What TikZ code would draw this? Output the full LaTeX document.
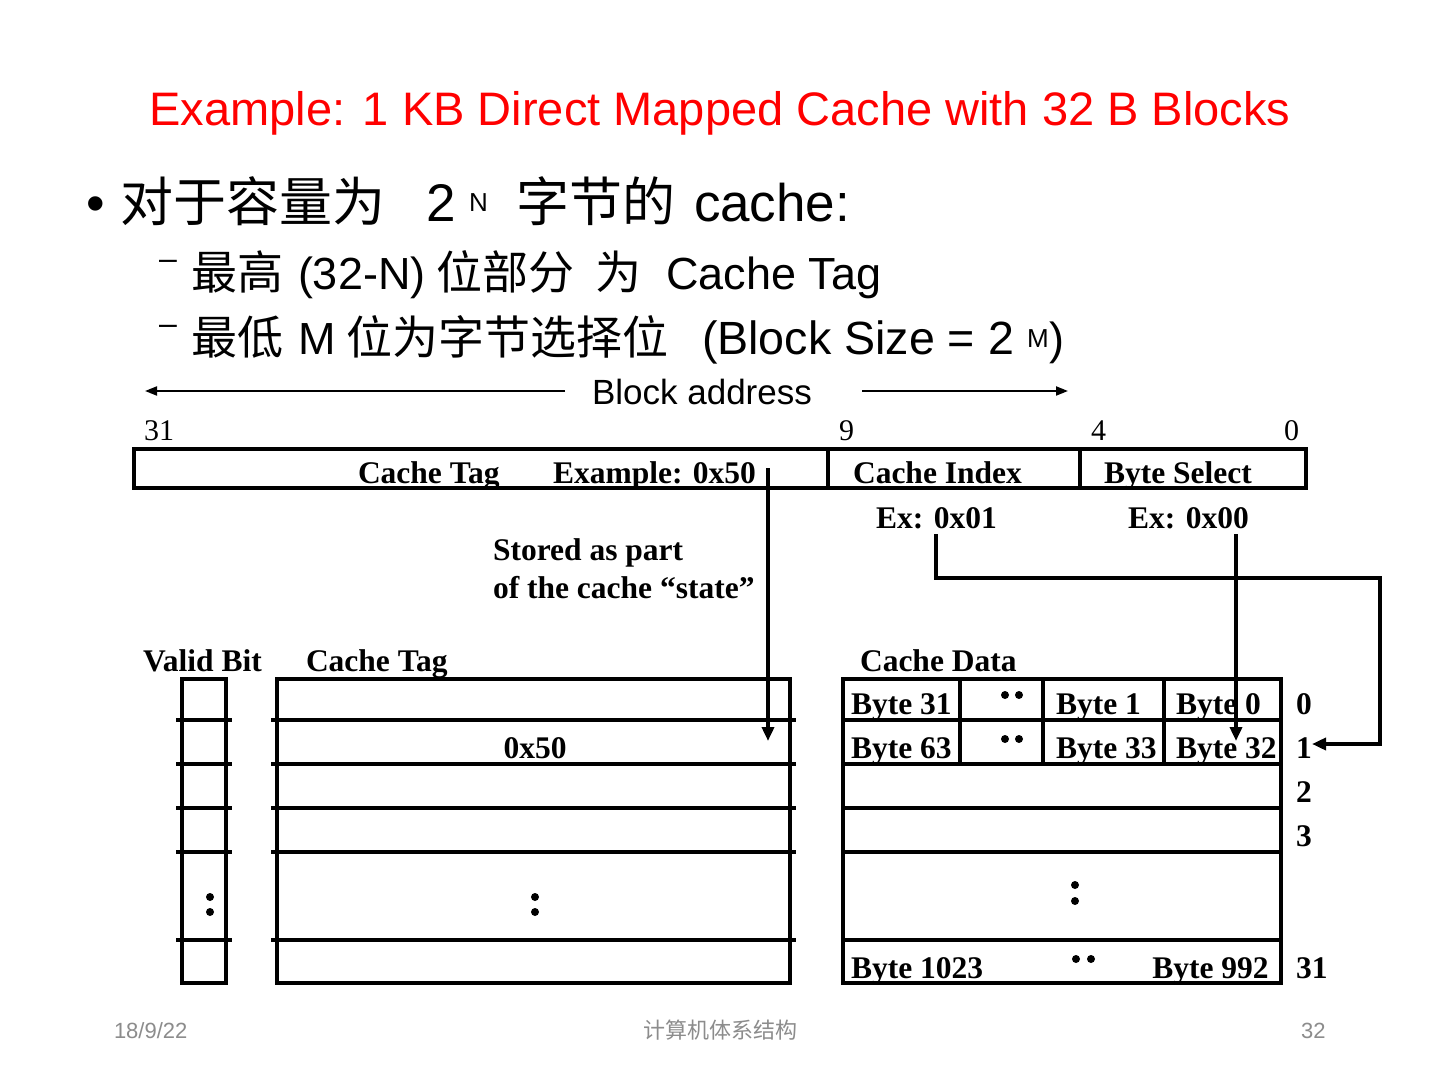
\documentclass[tikz,border=0pt]{standalone}
\usepackage{fontspec}
\setmainfont{Liberation Serif}
\setsansfont{Liberation Sans}
\newfontfamily\cjk{Noto Sans CJK SC}
\usetikzlibrary{arrows.meta}
\definecolor{titlered}{RGB}{255,0,0}
\definecolor{footgray}{RGB}{140,140,140}
\begin{document}
\begin{tikzpicture}[x=0.5pt,y=-0.5pt,
  tx/.style={anchor=base west,inner sep=0pt,outer sep=0pt},
  txc/.style={anchor=base,inner sep=0pt,outer sep=0pt},
  bl/.style={font=\fontsize{15.75}{16}\selectfont\bfseries},
  rg/.style={font=\fontsize{15}{16}\selectfont},
  big/.style={font=\sffamily\fontsize{26.5}{27}\selectfont},
  bigc/.style={font=\cjk\fontsize{26.5}{27}\selectfont},
  sub/.style={font=\sffamily\fontsize{22.5}{23}\selectfont},
  subc/.style={font=\cjk\fontsize{23}{24}\selectfont},
  sup/.style={font=\sffamily\fontsize{13}{13}\selectfont},
  foot/.style={text=footgray,font=\sffamily\fontsize{11}{12}\selectfont},
  footc/.style={text=footgray,font=\cjk\fontsize{11}{12}\selectfont},
  box/.style={line width=2pt},
  conn/.style={line width=2pt,-{Triangle[width=6pt,length=7pt]}},
  thin/.style={line width=1pt,-{Triangle[width=4.5pt,length=6pt]}},
  dot/.style={fill=black,draw=none}]
\useasboundingbox[fill=white] (0,0) rectangle (1440,1080);

% title
\node[txc,text=titlered,font=\sffamily\fontsize{23.5}{24}\selectfont] (title) at (720,126) {Example: 1 KB Direct Mapped Cache with 32 B Blocks};

% bullet line
\node[tx,big] (bul) at (86,222) {•};
\node[tx,bigc] (l1a) at (120,222) {对于容量为};
\node[tx,big] (l1b) at (426,222) {2};
\node[tx,sup] (l1c) at (469,212) {N};
\node[tx,bigc] (l1d) at (516,222) {字节的};
\node[tx,big] (l1e) at (694,222) {cache:};

% sub line 1
\node[tx,font=\sffamily\fontsize{16}{16}\selectfont] (d1) at (159,270) {–};
\node[tx,subc] (l2a) at (191,290) {最高};
\node[tx,sub] (l2b) at (298,290) {(32-N)};
\node[tx,subc] (l2c) at (436,290) {位部分};
\node[tx,subc] (l2d) at (595,290) {为};
\node[tx,sub] (l2e) at (666,290) {Cache Tag};

% sub line 2
\node[tx,font=\sffamily\fontsize{16}{16}\selectfont] (d2) at (159,335) {–};
\node[tx,subc] (l3a) at (191,355) {最低};
\node[tx,sub] (l3b) at (298,355) {M};
\node[tx,subc] (l3c) at (346,355) {位为字节选择位};
\node[tx,font=\sffamily\fontsize{23.3}{24}\selectfont] (l3d) at (702,355) {(Block Size = 2};
\node[tx,sup] (l3e) at (1027,348) {M};
\node[tx,sub] (l3f) at (1049,355) {)};

% block address
\node[txc,font=\sffamily\fontsize{17.5}{18}\selectfont] (ba) at (702,405) {Block address};
\coordinate (bal0) at (565,391);
\coordinate (bal1) at (145,391);
\coordinate (bar0) at (862,391);
\coordinate (bar1) at (1068,391);
\draw[thin] (bal0) -- (bal1);
\draw[thin] (bar0) -- (bar1);

% bit numbers
\node[tx,rg] (b31) at (144,441) {31};
\node[tx,rg] (b9) at (839,441) {9};
\node[tx,rg] (b4) at (1091,441) {4};
\node[tx,rg] (b0) at (1284,441) {0};

% address box
\draw[box] (134,449) rectangle (1306,488);
\draw[box] (828,449) -- (828,488);
\draw[box] (1080,449) -- (1080,488);
\node[tx,bl] (atag) at (358,483) {Cache Tag};
\node[tx,bl] (aex) at (553,483) {Example: 0x50};
\node[tx,bl] (aidx) at (853,483) {Cache Index};
\node[tx,bl] (abs) at (1104,483) {Byte Select};
\node[tx,bl] (ex1) at (876,528) {Ex: 0x01};
\node[tx,bl] (ex0) at (1128,528) {Ex: 0x00};

\node[tx,bl] (st1) at (493,560) {Stored as part};
\node[tx,bl] (st2) at (493,598) {of the cache “state”};

% headers
\node[tx,bl] (hvb) at (143,671) {Valid Bit};
\node[tx,bl] (hct) at (306,671) {Cache Tag};
\node[tx,bl] (hcd) at (860,671) {Cache Data};

% valid bit column
\draw[box] (182,983) -- (182,679) -- (226,679) -- (226,983) -- cycle;
\foreach \y in {720,764,808,852,940} \draw[box] (176,\y) -- (232,\y);
% tag column
\draw[box] (277,679) rectangle (790,983);
\foreach \y in {720,764,808,852,940} \draw[box] (271,\y) -- (796,\y);
% data column
\draw[box] (843,679) rectangle (1281,983);
\foreach \y in {720,764,808,852,940} \draw[box] (843,\y) -- (1281,\y);
\foreach \x in {960,1043,1164} \draw[box] (\x,679) -- (\x,764);

% data texts
\node[tx,bl] (d31) at (851,714) {Byte 31};
\node[tx,bl] (d1b) at (1056,714) {Byte 1};
\node[tx,bl] (d0) at (1176,714) {Byte 0};
\node[tx,bl] (d63) at (851,758) {Byte 63};
\node[tx,bl] (d33) at (1056,758) {Byte 33};
\node[tx,bl] (d32) at (1176,758) {Byte 32};
\node[tx,bl] (d1023) at (851,978) {Byte 1023};
\node[anchor=base east,inner sep=0pt,bl] (d992) at (1269,978) {Byte 992};
\node[txc,bl] (tag50) at (535,758) {0x50};

% row labels
\node[tx,bl] (r0) at (1296,714) {0};
\node[tx,bl] (r1) at (1296,758) {1};
\node[tx,bl] (r2) at (1296,802) {2};
\node[tx,bl] (r3) at (1296,846) {3};
\node[tx,bl] (r31) at (1296,978) {31};

% dots
\foreach \x/\y in {1005/695,1019/695,1005/739,1019/739,1076/959,1091/959,
                   210/897,210/912,535/897,535/912,1075/885,1075/901}
  \fill[dot] (\x,\y) circle (4);

% connectors
\coordinate (tagsrc) at (768,468);
\coordinate (tagdst) at (768,741);
\draw[conn] (tagsrc) -- (tagdst);

\coordinate (idxsrc) at (936,534);
\coordinate (idxc1) at (936,578);
\coordinate (idxc2) at (1380,578);
\coordinate (idxc3) at (1380,744);
\coordinate (idxdst) at (1312,744);
\draw[conn] (idxsrc) -- (idxc1) -- (idxc2) -- (idxc3) -- (idxdst);

\coordinate (bssrc) at (1236,534);
\coordinate (bsdst) at (1236,741);
\draw[conn] (bssrc) -- (bsdst);

% footer
\node[tx,foot] (fdate) at (114,1038) {18/9/22};
\node[txc,footc] (ftitle) at (720,1038) {计算机体系结构};
\node[anchor=base east,inner sep=0pt,foot] (fpage) at (1326,1038) {32};
\end{tikzpicture}
\end{document}
